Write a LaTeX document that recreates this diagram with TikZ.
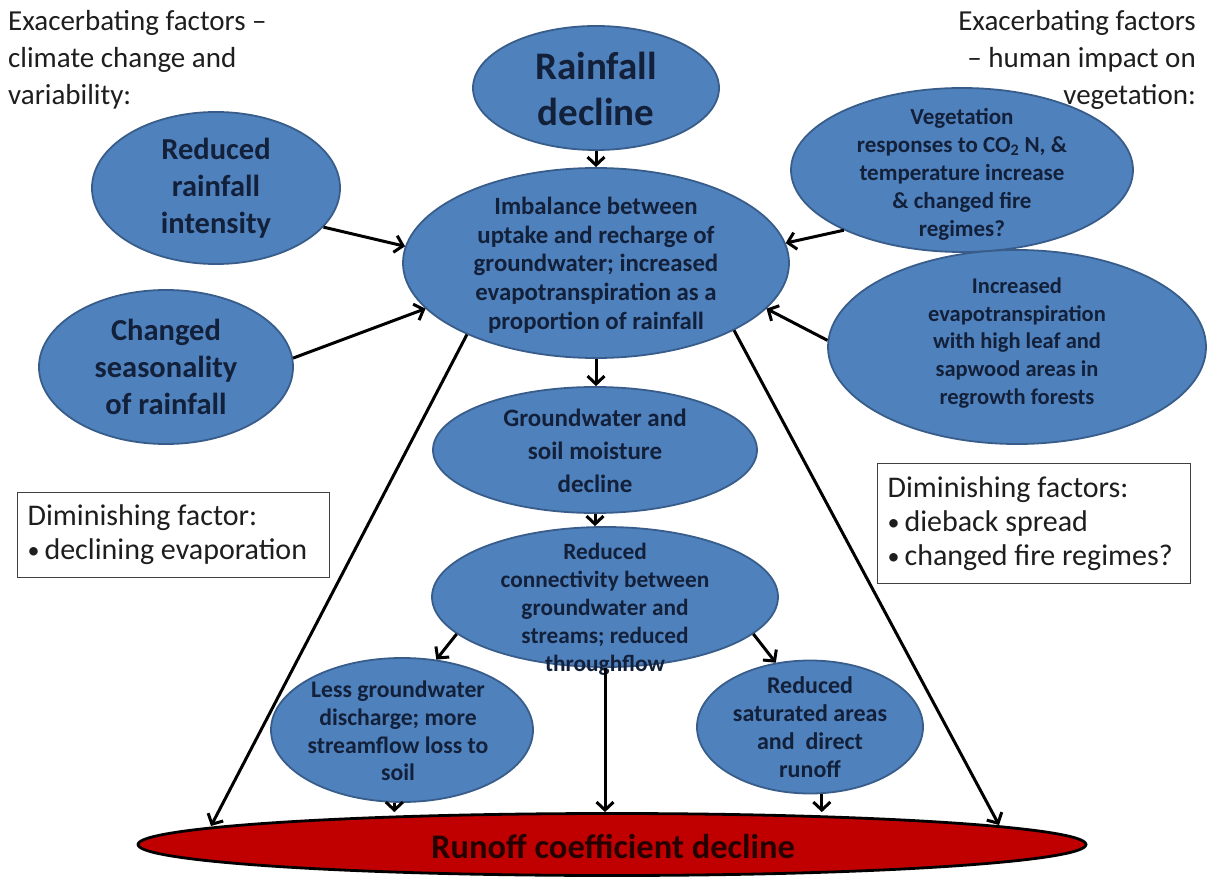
\documentclass[tikz,border=0pt]{standalone}
\usepackage{fontspec}
\setmainfont{Carlito}
\usetikzlibrary{arrows.meta,shapes.geometric}
\definecolor{bfill}{HTML}{4F81BD}
\definecolor{bline}{HTML}{385D8A}
\definecolor{btext}{HTML}{13203A}
\definecolor{rfill}{HTML}{C00000}
\definecolor{gtext}{HTML}{1E1E1E}
\definecolor{boxline}{HTML}{404040}
\newcommand\mybul{\raisebox{1pt}{\fontsize{24}{24}\selectfont\textbullet}\hspace{5pt}}
\begin{document}
\begin{tikzpicture}[x=1pt,y=-1pt,
  ell/.style={ellipse, draw=bline, line width=1.8pt, fill=bfill, inner sep=0pt},
  etxt/.style={align=center, text=btext, inner sep=0pt},
  arr/.style={line width=3pt, black, -{Straight Barb[length=8pt,width=17pt]}},
  fbox/.style={draw=boxline, line width=1.2pt, fill=white, align=flush left, text=gtext, inner xsep=10pt, inner ysep=0pt, font=\fontsize{30}{34}\selectfont},
  side/.style={text=gtext, inner sep=0pt, font=\fontsize{29}{37}\selectfont}]
\useasboundingbox (0,0) rectangle (1208,877);
\fill[white] (0,0) rectangle (1208,877);

% side texts
\node[side, align=left, anchor=west] (exl) at (8,60) {Exacerbating factors --\\climate change and\\variability:};
\node[side, align=right, anchor=east] (exr) at (1196,60) {Exacerbating factors\\-- human impact on\\vegetation:};

% ellipses
\node[ell, minimum width=246pt, minimum height=124pt] (rain) at (596,88) {};
\node[etxt, font=\fontsize{39}{46}\selectfont\bfseries] (raint) at (596,89) {Rainfall\\decline};

\node[ell, minimum width=248pt, minimum height=152pt] (rri) at (216,188) {};
\node[etxt, font=\fontsize{30.5}{37}\selectfont\bfseries] (rrit) at (216,188) {Reduced\\rainfall\\intensity};

\node[ell, minimum width=254pt, minimum height=154pt] (chg) at (166,367) {};
\node[etxt, font=\fontsize{30.5}{37}\selectfont\bfseries] (chgt) at (166,367) {Changed\\seasonality\\of rainfall};

\node[ell, minimum width=386pt, minimum height=190pt] (imb) at (596,263) {};
\node[etxt, font=\fontsize{24.8}{28.7}\selectfont\bfseries] (imbt) at (596,265) {Imbalance between\\uptake and recharge of\\groundwater; increased\\evapotranspiration as a\\proportion of rainfall};

\node[ell, minimum width=342pt, minimum height=164pt] (veg) at (962,170) {};
\node[etxt, font=\fontsize{23}{28}\selectfont\bfseries] (vegt) at (962,174) {Vegetation\\responses to CO\textsubscript{2} N, \&\\temperature increase\\\& changed fire\\regimes?};

\node[ell, minimum width=378pt, minimum height=194pt] (iet) at (1017,347) {};
\node[etxt, font=\fontsize{22.5}{27.8}\selectfont\bfseries] (iett) at (1017,343) {Increased\\evapotranspiration\\with high leaf and\\sapwood areas in\\regrowth forests};

\node[ell, minimum width=324pt, minimum height=126pt] (gw) at (595,450) {};
\node[etxt, font=\fontsize{25}{33}\selectfont\bfseries] (gwt) at (595,451) {Groundwater and\\soil moisture\\decline};

\node[ell, minimum width=346pt, minimum height=140pt] (rc) at (605,597) {};
\node[etxt, font=\fontsize{23.3}{28}\selectfont\bfseries] (rct) at (605,609) {Reduced\\connectivity between\\groundwater and\\streams; reduced\\throughflow};

\node[ell, minimum width=262pt, minimum height=144pt] (lgw) at (402,730) {};
\node[etxt, font=\fontsize{23.7}{27.7}\selectfont\bfseries] (lgwt) at (398,731) {Less groundwater\\discharge; more\\streamflow loss to\\soil};

\node[ell, minimum width=226pt, minimum height=133pt] (rsa) at (810,727) {};
\node[etxt, font=\fontsize{24}{28}\selectfont\bfseries] (rsat) at (810,727) {Reduced\\saturated areas\\and~ direct\\runoff};

\node[ellipse, draw=black, line width=2.8pt, fill=rfill, inner sep=0pt, minimum width=948pt, minimum height=62pt] (red) at (612,844.5) {};
\node[etxt, text=black!85!red, font=\fontsize{34.5}{38}\selectfont\bfseries] (redt) at (613,846) {Runoff coefficient decline};
% points on the rim of the flat red ellipse
\coordinate (redL) at (211,826);
\coordinate (redR) at (999,825);

% boxes
\node[fbox, anchor=north west, text width=292pt, minimum height=85pt] (boxl) at (17,492) {Diminishing factor:\\\mybul declining evaporation};
\node[fbox, anchor=north west, text width=293pt, minimum height=120pt] (boxr) at (877,463) {Diminishing factors:\\\mybul dieback spread\\\mybul changed fire regimes?};

% connectors
\draw[arr] (rain) -- (imb);
\draw[arr] (rri.-20) -- (imb.175);
\draw[arr] (chg.4) -- (imb.195);
\draw[arr] (veg.207) -- (imb.6);
\draw[arr] (iet.178) -- (imb.-15);
\draw[arr] (imb.south) -- (imb.south |- gw.north);
\draw[arr] (gw.south) -- (gw.south |- rc.north);
\draw[arr] (rc.194) -- (lgw.64);
\draw[arr] (rc.-14) -- (rsa.118);
\draw[arr] (lgw.264) -- (lgw.264 |- red.north);
\draw[arr] (rc.south) -- (rc.south |- red.north);
\draw[arr] (rsa.-80) -- (rsa.-80 |- red.north);
\draw[arr] (imb.209) -- (redL);
\draw[arr] (imb.-26) -- (redR);
\end{tikzpicture}
\end{document}
